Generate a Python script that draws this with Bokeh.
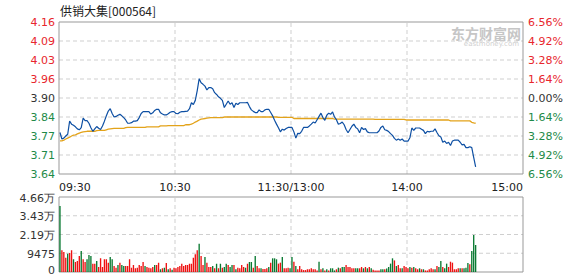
import numpy as np
from bokeh.plotting import figure
from bokeh.models import Range1d
from bokeh.core.properties import value
from bokeh.embed import file_html
from bokeh.resources import INLINE

# ---------------- data ----------------
title_text = "供销大集[000564]"
watermark_cn = "东方财富网"
watermark_en = "eastmoney.com"
prev_close = 3.90
pct_step = 1.64            # percent per grid step
time_labels = ["09:30", "10:30", "11:30/13:00", "14:00", "15:00"]
time_ticks = [0, 60, 120, 180, 240]
vol_max = 46600
vol_tick_labels = ["0", "9475", "2.19万", "3.43万", "4.66万"]

price = [
    3.784, 3.762, 3.765, 3.772, 3.778, 3.822, 3.812, 3.808, 3.803, 3.796,
    3.793, 3.800, 3.832, 3.824, 3.824, 3.815, 3.800, 3.788, 3.796, 3.804,
    3.798, 3.794, 3.806, 3.822, 3.840, 3.856, 3.864, 3.848, 3.836, 3.838,
    3.842, 3.845, 3.840, 3.834, 3.826, 3.815, 3.815, 3.817, 3.822, 3.822,
    3.824, 3.834, 3.848, 3.854, 3.854, 3.854, 3.854, 3.846, 3.850, 3.858,
    3.862, 3.862, 3.850, 3.846, 3.843, 3.843,
    3.847, 3.852, 3.854, 3.854, 3.848, 3.847, 3.852, 3.854, 3.854, 3.855,
    3.856, 3.864, 3.884, 3.878, 3.892, 3.925, 3.965, 3.951, 3.946, 3.940,
    3.927, 3.935, 3.935, 3.931, 3.918, 3.912, 3.904, 3.899, 3.892, 3.868,
    3.879, 3.890, 3.879, 3.884, 3.868, 3.882, 3.878, 3.884, 3.884, 3.884,
    3.884, 3.885, 3.871, 3.860, 3.855, 3.851, 3.851, 3.860, 3.854, 3.854,
    3.860, 3.862, 3.862, 3.851, 3.840, 3.825,
    3.812, 3.800, 3.786, 3.795, 3.792, 3.797, 3.801, 3.801, 3.801, 3.786,
    3.765, 3.781, 3.780, 3.788, 3.801, 3.801, 3.801, 3.806, 3.812, 3.819,
    3.816, 3.827, 3.838, 3.849, 3.834, 3.825, 3.842, 3.849, 3.845, 3.853,
    3.836, 3.827, 3.812, 3.814, 3.819, 3.810, 3.794, 3.783, 3.794, 3.805,
    3.812, 3.801, 3.796, 3.783, 3.801, 3.794, 3.797, 3.786, 3.783, 3.783,
    3.783, 3.783, 3.783, 3.789, 3.801, 3.806,
    3.793, 3.791, 3.787, 3.780, 3.774, 3.764, 3.758, 3.762, 3.758, 3.762,
    3.755, 3.755, 3.755, 3.766, 3.799, 3.791, 3.799, 3.799, 3.799, 3.795,
    3.791, 3.780, 3.788, 3.786, 3.788, 3.788, 3.796, 3.784, 3.773, 3.769,
    3.751, 3.755, 3.747, 3.751, 3.740, 3.755, 3.758, 3.758, 3.758, 3.751,
    3.742, 3.744, 3.733, 3.733, 3.736, 3.733, 3.700, 3.668,
]

avg_price = [
    3.756, 3.756, 3.758, 3.762, 3.765, 3.768, 3.772, 3.775, 3.776, 3.779,
    3.782, 3.784, 3.786, 3.787, 3.788, 3.788, 3.788, 3.788, 3.788, 3.790,
    3.791, 3.791, 3.791, 3.791, 3.793, 3.795, 3.796, 3.797, 3.798, 3.798,
    3.798, 3.798, 3.798, 3.798, 3.800, 3.801, 3.801, 3.801, 3.801, 3.801,
    3.801, 3.801, 3.801, 3.801, 3.801, 3.803, 3.803, 3.803, 3.803, 3.803,
    3.803, 3.803, 3.806, 3.806, 3.806, 3.806, 3.807, 3.807, 3.807, 3.807,
    3.807, 3.807, 3.807, 3.807, 3.807, 3.810, 3.810, 3.810, 3.812, 3.815,
    3.819, 3.822, 3.826, 3.829, 3.830, 3.831, 3.832, 3.833, 3.834, 3.834,
    3.834, 3.834, 3.834, 3.834, 3.834, 3.836, 3.836, 3.836, 3.836, 3.836,
    3.836, 3.836, 3.836, 3.836, 3.836, 3.836, 3.836, 3.836, 3.836, 3.836,
    3.836, 3.836, 3.836, 3.836, 3.836, 3.836, 3.836, 3.836, 3.836, 3.836,
    3.836, 3.836, 3.836, 3.835, 3.835, 3.835, 3.835, 3.835, 3.835, 3.835,
    3.835, 3.831, 3.831, 3.831, 3.831, 3.831, 3.831, 3.831, 3.831, 3.831,
    3.831, 3.831, 3.831, 3.831, 3.831, 3.831, 3.831, 3.831, 3.831, 3.831,
    3.831, 3.831, 3.829, 3.829, 3.829, 3.829, 3.829, 3.829, 3.829, 3.829,
    3.829, 3.829, 3.829, 3.829, 3.829, 3.829, 3.829, 3.829, 3.829, 3.829,
    3.829, 3.829, 3.829, 3.828, 3.828, 3.828, 3.828, 3.828, 3.828, 3.828,
    3.828, 3.828, 3.828, 3.828, 3.828, 3.828, 3.828, 3.828, 3.828, 3.826,
    3.826, 3.826, 3.826, 3.826, 3.826, 3.826, 3.826, 3.826, 3.826, 3.826,
    3.826, 3.826, 3.826, 3.826, 3.826, 3.826, 3.826, 3.826, 3.826, 3.826,
    3.826, 3.826, 3.823, 3.823, 3.823, 3.823, 3.823, 3.823, 3.823, 3.823,
    3.823, 3.823, 3.823, 3.818, 3.816, 3.815,
]

volume = [
    41000, 13450, 12400, 8900, 11400, 11800, 13450, 7900, 6200, 6800,
    9900, 13000, 7900, 6200, 7900, 10500, 9900, 5200, 5200, 6800,
    3100, 8500, 3100, 7900, 7900, 5800, 9300, 7900, 3700, 2700,
    4300, 5800, 4300, 3700, 3700, 3700, 7900, 2700, 4300, 2300,
    2700, 4300, 3700, 6200, 3700, 3100, 2700, 2300, 3100, 4300,
    4300, 5800, 1700, 2300, 2700, 5600, 1700, 2300, 1400, 2700,
    2300, 3100, 3700, 5200, 3700, 4300, 4300, 5200, 5200, 8900,
    11000, 13450, 17600, 9900, 4300, 9300, 5800, 3100, 3100, 3700,
    2300, 5200, 2300, 5200, 2700, 3100, 5200, 4300, 3100, 4300,
    4300, 1700, 2700, 2300, 4300, 3100, 2700, 5200, 6200, 6200,
    2700, 9900, 3700, 2300, 2300, 1900, 1900, 2300, 3100, 5800,
    8500, 8500, 7900, 5200, 5800, 9300, 2300, 2300, 2700, 2300,
    9300, 6400, 3700, 1700, 3700, 1700, 1200, 1200, 1700, 1700,
    2300, 1700, 1700, 1000, 6400, 1700, 2300, 1000, 1700, 1000,
    2300, 2300, 1000, 1700, 2700, 2300, 3100, 3100, 4300, 3100,
    3100, 2300, 2300, 2300, 2300, 2300, 3100, 2300, 3100, 2300,
    3100, 2300, 1400, 1000, 1000, 1000, 1700, 1700, 1700, 2100,
    3100, 5200, 8500, 7200, 3700, 4300, 2300, 2300, 3700, 3100,
    2300, 3100, 2700, 3100, 2300, 1700, 2300, 1700, 1700, 1000,
    1000, 1700, 2300, 1700, 1700, 3700, 3100, 6800, 3100, 2300,
    5200, 3100, 6400, 5800, 1700, 1700, 2300, 2300, 2300, 2300,
    2700, 5600, 4800, 13000, 23000, 16800,
]

# R = up minute (red bar), G = down minute (green bar)
bar_dir = (
    "GRRRGRRGRR" "RGRRGGGRRG" "RRRRRRGGRR" "GRGGRRRRRR" "RRRRGRRRRG" "RRGRGRGRGR"
    "RRRRRRRRRR" "RRGRRGRRRG" "RGRGRGGRGG" "RGRRRRGRGG" "RGRRGRRRGR" "GGGRRGRRRG"
    "GRGRRRRRRR" "RRRRGRGRGR" "GGGRGRGGRR" "RRRGGRRGRG" "RGRRRRGGRG" "GGGRGRRGRR"
    "RGRGRRGRGR" "RRRRGRGGRG" "GRRRRRRGRG" "GGRGGG"
)

# ---------------- style / layout ----------------
RED = "#e8262d"
GREEN = "#1e8a48"
DARK = "#333333"
BAR_RED = "#ee1111"
BAR_GREEN = "#0a7a32"
GRID = "#cfcfcf"
FRAME = "#999999"
FONT = "DejaVu Sans"
FS = "11px"

W, H = 578, 276
PL, PR = 58.5, 55.5                 # plot box left / right margins (px)
PRICE_TOP, PRICE_BOT = 21.5, 173.5  # price box top / bottom (px from top)
VOL_TOP, VOL_BOT = 196.5, 271.5     # volume box top / bottom (px from top)

# ---------------- derived ----------------
n = len(price)
minutes = np.arange(n) + 0.5
ks = np.arange(-4, 5)
price_ticks = [float(v) for v in prev_close * (1 + ks * pct_step / 100.0)]
lo, hi = price_ticks[0], price_ticks[-1]
left_labels = [f"{v:.2f}" for v in price_ticks]
right_labels = [f"{abs(k * pct_step):.2f}%" for k in ks]
lab_colors = [RED if k > 0 else (GREEN if k < 0 else DARK) for k in ks]
bar_colors = [BAR_RED if d == "R" else BAR_GREEN for d in bar_dir]
vol_ticks = [vol_max * i / 4.0 for i in range(5)]

T0, T_END = time_ticks[0], time_ticks[-1]
xpp = (W - PL - PR) / (T_END - T0)
ypp_p = (PRICE_BOT - PRICE_TOP) / (hi - lo)
ypp_v = (VOL_BOT - VOL_TOP) / vol_max

p = figure(width=W, height=H,
           x_range=Range1d(T0 - PL / xpp, T_END + PR / xpp),
           y_range=Range1d(lo - (H - PRICE_BOT) / ypp_p, hi + PRICE_TOP / ypp_p),
           output_backend="svg", toolbar_location=None,
           min_border=0, min_border_left=0, min_border_right=0,
           min_border_top=0, min_border_bottom=0)
p.extra_y_ranges = {"vol": Range1d(-(H - VOL_BOT) / ypp_v, vol_max + VOL_TOP / ypp_v)}
p.xaxis.visible = False
p.yaxis.visible = False
p.xgrid.visible = False
p.ygrid.visible = False
p.outline_line_color = None
p.background_fill_color = "white"
p.border_fill_color = "white"


def grid_and_box(y0, y1, yticks, rn):
    inner = yticks[1:-1]
    p.segment(x0=[T0] * len(inner), y0=inner, x1=[T_END] * len(inner), y1=inner,
              line_color=GRID, line_dash="4 3", line_width=1, y_range_name=rn)
    vt = time_ticks[1:-1]
    p.segment(x0=vt, y0=[y0] * len(vt), x1=vt, y1=[y1] * len(vt),
              line_color=GRID, line_dash="4 3", line_width=1, y_range_name=rn)
    p.quad(left=[T0], right=[T_END], bottom=[y0], top=[y1],
           fill_color=None, line_color=FRAME, line_width=1, y_range_name=rn)


# ---------------- price panel ----------------
p.text(x=[T_END], y=[hi], text=[watermark_cn], x_offset=-2, y_offset=1,
       text_align="right", text_baseline="top", text_color="#c6c6c6",
       text_font=value("Noto Sans CJK SC"), text_font_style="bold", text_font_size="14px")
p.text(x=[T_END], y=[hi], text=[watermark_en], x_offset=-4, y_offset=18,
       text_align="right", text_baseline="top", text_color="#cfcfcf",
       text_font=value(FONT), text_font_size="7px")

grid_and_box(lo, hi, price_ticks, "default")

p.line(minutes, avg_price, line_color="#e3a31a", line_width=1.3)
p.line(minutes, price, line_color="#0d4fa3", line_width=1.2)

p.text(x=[T0] * len(ks), y=price_ticks, text=left_labels, text_color=lab_colors,
       x_offset=-4, text_align="right", text_baseline="middle",
       text_font=value(FONT), text_font_size=FS)
p.text(x=[T_END] * len(ks), y=price_ticks, text=right_labels, text_color=lab_colors,
       x_offset=5, text_align="left", text_baseline="middle",
       text_font=value(FONT), text_font_size=FS)

# time labels: first left-aligned, last right-aligned, rest centred
p.text(x=time_ticks[:1], y=[lo], text=time_labels[:1], y_offset=13,
       text_align="left", text_baseline="middle", text_color="#222222",
       text_font=value(FONT), text_font_size=FS)
p.text(x=time_ticks[1:-1], y=[lo] * (len(time_ticks) - 2), text=time_labels[1:-1], y_offset=13,
       text_align="center", text_baseline="middle", text_color="#222222",
       text_font=value(FONT), text_font_size=FS)
p.text(x=time_ticks[-1:], y=[lo], text=time_labels[-1:], y_offset=13,
       text_align="right", text_baseline="middle", text_color="#222222",
       text_font=value(FONT), text_font_size=FS)

p.text(x=[T0], y=[hi], text=[title_text], x_offset=1, y_offset=-12,
       text_align="left", text_baseline="middle", text_color="#222222",
       text_font=value("Noto Sans CJK SC"), text_font_size="12px")

# ---------------- volume panel ----------------
grid_and_box(0, vol_max, vol_ticks, "vol")
p.vbar(x=minutes, top=volume, bottom=0, width=0.7, fill_color=bar_colors,
       line_color=None, y_range_name="vol")
p.text(x=[T0] * (len(vol_ticks) - 1), y=vol_ticks[1:], text=vol_tick_labels[1:], text_color=DARK,
       x_offset=-4, y_offset=1, text_align="right", text_baseline="middle",
       text_font=value(FONT), text_font_size=FS, y_range_name="vol")
p.text(x=[T0], y=vol_ticks[:1], text=vol_tick_labels[:1], text_color=DARK,
       x_offset=-4, y_offset=-2, text_align="right", text_baseline="middle",
       text_font=value(FONT), text_font_size=FS, y_range_name="vol")

open("out.html", "w").write(file_html(p, INLINE))
